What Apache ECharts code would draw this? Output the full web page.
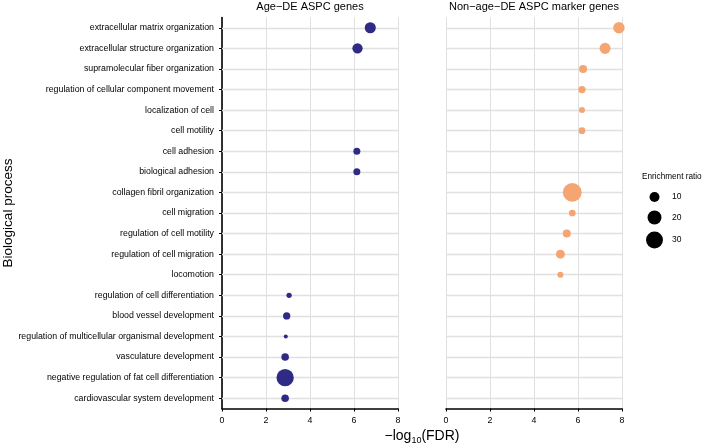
<!DOCTYPE html>
<html>
<head>
<meta charset="utf-8">
<script src="https://cdn.jsdelivr.net/npm/echarts@6/dist/echarts.min.js"></script>
<style>
  html, body { margin: 0; padding: 0; background: #fff; }
  #chart { width: 708px; height: 443px; }
</style>
</head>
<body>
<div id="chart"></div>
<script>
// ---- data ----
const categories = [
  'extracellular matrix organization',
  'extracellular structure organization',
  'supramolecular fiber organization',
  'regulation of cellular component movement',
  'localization of cell',
  'cell motility',
  'cell adhesion',
  'biological adhesion',
  'collagen fibril organization',
  'cell migration',
  'regulation of cell motility',
  'regulation of cell migration',
  'locomotion',
  'regulation of cell differentiation',
  'blood vessel development',
  'regulation of multicellular organismal development',
  'vasculature development',
  'negative regulation of fat cell differentiation',
  'cardiovascular system development'
];
const panelTitles = ['Age\u2212DE ASPC genes', 'Non\u2212age\u2212DE ASPC marker genes'];
// -log10(FDR)
const ageFdr = [6.74, 6.16, null, null, null, null, 6.13, 6.13, null, null, null, null, null, 3.05, 2.94, 2.90, 2.87, 2.87, 2.87];
const ageRatio = [12.5, 10.7, null, null, null, null, 4.7, 4.7, null, null, null, null, null, 2.6, 5.1, 1.4, 5.6, 31.4, 5.6];
const markerFdr = [7.86, 7.23, 6.23, 6.18, 6.18, 6.18, null, null, 5.74, 5.74, 5.49, 5.20, 5.20, null, null, null, null, null, null];
const markerRatio = [13.4, 12.3, 6.3, 5.1, 3.4, 4.3, null, null, 37, 4.3, 6.3, 8.0, 3.4, null, null, null, null, null, null];
const xTicks = [0, 2, 4, 6, 8];
const legendRatios = [10, 20, 30];

// ---- styling ----
const FONT = '"Liberation Sans", Arial, Helvetica, sans-serif';
const BLUE = '#2E2A86';
const ORANGE = '#F4A571';
const GRID = '#e0e0e0';
const sizeOf = r => 0.5 + 3 * Math.sqrt(r);

function pts(fdr, ratio) {
  const out = [];
  for (let i = 0; i < categories.length; i++) {
    if (fdr[i] != null) out.push([fdr[i], categories[i], ratio[i]]);
  }
  return out;
}

const grids = [
  { left: 222, top: 17.5, width: 176, height: 391 },
  { left: 446, top: 17.5, width: 176, height: 391 }
];

const xAxes = grids.map((g, i) => ({
  type: 'value', gridIndex: i, min: xTicks[0], max: xTicks[xTicks.length - 1], interval: 2,
  axisLine: { show: true, onZero: false, lineStyle: { color: '#000', width: 1.6 } },
  axisTick: { show: true, length: 3, lineStyle: { color: '#000', width: 1 } },
  axisLabel: { fontFamily: FONT, fontSize: 8.8, color: '#000', margin: 7.5 },
  splitLine: { show: true, lineStyle: { color: GRID, width: 1 } }
}));

const yAxes = [
  {
    type: 'category', gridIndex: 0, data: categories, inverse: true, boundaryGap: true,
    axisLine: { show: true, lineStyle: { color: '#000', width: 1.6 } },
    axisTick: { show: true, alignWithLabel: true, length: 3, lineStyle: { color: '#000' } },
    axisLabel: { fontFamily: FONT, fontSize: 8.8, color: '#000', margin: 8, interval: 0 },
    splitLine: { show: false }
  },
  {
    type: 'category', gridIndex: 1, data: categories, inverse: true, boundaryGap: true,
    axisLine: { show: false }, axisTick: { show: false }, axisLabel: { show: false },
    splitLine: { show: false }
  }
];

function gridLineSeries(i) {
  return {
    type: 'scatter', xAxisIndex: i, yAxisIndex: i, data: [], silent: true, z: 1,
    markLine: {
      silent: true, symbol: ['none', 'none'], animation: false, z: 1,
      label: { show: false },
      lineStyle: { color: GRID, width: 1.3, type: 'solid' },
      emphasis: { disabled: true },
      data: categories.map((c, k) => ({ yAxis: k }))
    }
  };
}

const series = [
  gridLineSeries(0),
  gridLineSeries(1),
  {
    type: 'scatter', xAxisIndex: 0, yAxisIndex: 0, z: 10, clip: false,
    data: pts(ageFdr, ageRatio),
    symbolSize: v => sizeOf(v[2]),
    itemStyle: { color: BLUE, opacity: 1 }
  },
  {
    type: 'scatter', xAxisIndex: 1, yAxisIndex: 1, z: 10, clip: false,
    data: pts(markerFdr, markerRatio),
    symbolSize: v => sizeOf(v[2]),
    itemStyle: { color: ORANGE, opacity: 1 }
  }
];

const legendItems = legendRatios.map((r, k) => {
  const cy = [197, 217.5, 240][k];
  return [
    { type: 'circle', shape: { cx: 654.5, cy: cy, r: sizeOf(r) / 2 }, style: { fill: '#000' } },
    { type: 'text', x: 672, y: cy, style: { text: String(r), font: '8.5px ' + FONT, fill: '#000', textAlign: 'left', textVerticalAlign: 'middle' } }
  ];
}).flat();

const graphic = [
  { type: 'text', x: 310, y: 6.5, style: { text: panelTitles[0], font: '11px ' + FONT, fill: '#000', textAlign: 'center', textVerticalAlign: 'middle' } },
  { type: 'text', x: 534, y: 6.5, style: { text: panelTitles[1], font: '11px ' + FONT, fill: '#000', textAlign: 'center', textVerticalAlign: 'middle' } },
  { type: 'text', x: 8, y: 213, rotation: Math.PI / 2, style: { text: 'Biological process', font: '13.5px ' + FONT, fill: '#000', textAlign: 'center', textVerticalAlign: 'middle' } },
  { type: 'text', x: 422, y: 436, style: {
      text: '{a|\u2212log}{b|10}{a|(FDR)}', textAlign: 'center', textVerticalAlign: 'middle',
      rich: {
        a: { fontFamily: FONT, fontSize: 14, fill: '#000', color: '#000', lineHeight: 18, verticalAlign: 'middle' },
        b: { fontFamily: FONT, fontSize: 9, fill: '#000', color: '#000', lineHeight: 18, verticalAlign: 'bottom', padding: [7, 0, 0, 0] }
      }
  } },
  { type: 'text', x: 642, y: 177, style: { text: 'Enrichment ratio', font: '8.2px ' + FONT, fill: '#000', textAlign: 'left', textVerticalAlign: 'middle' } }
].concat(legendItems);

const chart = echarts.init(document.getElementById('chart'), null, { renderer: 'canvas' });
chart.setOption({
  backgroundColor: '#fff',
  animation: false,
  grid: grids,
  xAxis: xAxes,
  yAxis: yAxes,
  series: series,
  graphic: graphic
});
</script>
</body>
</html>
